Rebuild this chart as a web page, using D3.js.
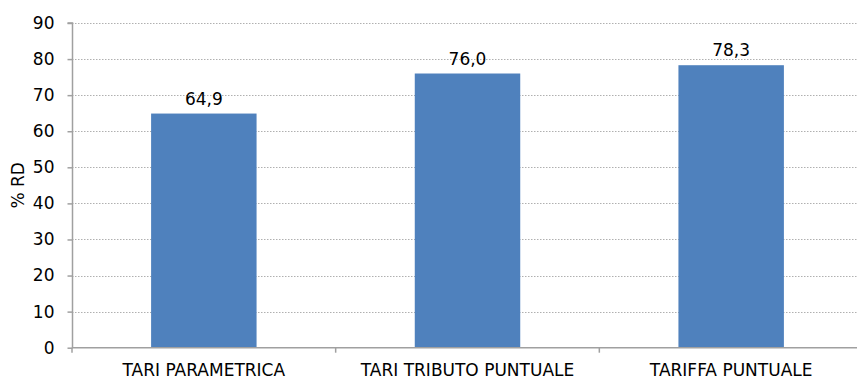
<!DOCTYPE html>
<html><head><meta charset="utf-8">
<script src="https://cdn.jsdelivr.net/npm/d3@7"></script>
<style>body{margin:0;background:#fff}svg{display:block}text{font-family:"DejaVu Sans",sans-serif;fill:#000}</style>
</head><body>
<svg id="c" width="857" height="381"></svg>
<script>
const categories = ["TARI PARAMETRICA", "TARI TRIBUTO PUNTUALE", "TARIFFA PUNTUALE"];
const values = [64.9, 76.0, 78.3];
const yTicks = [0, 10, 20, 30, 40, 50, 60, 70, 80, 90];
const yLabel = "% RD";

const svg = d3.select("#c");
const x = d3.scaleBand().domain(categories).range([72, 863]).paddingInner(0.6).paddingOuter(0.3);
const y = d3.scaleLinear().domain([0, 90]).range([347.7, 23]);
const fmt = v => d3.format(".1f")(v).replace(".", ",");

// gridlines
svg.append("g").selectAll("line").data(yTicks.filter(t => t > 0)).join("line")
  .attr("x1", 72).attr("x2", 857).attr("y1", d => Math.round(y(d)) + 0.5).attr("y2", d => Math.round(y(d)) + 0.5)
  .attr("stroke", "#b0b0b0").attr("stroke-dasharray", "1.5,1.5").attr("stroke-width", 1);

// bars
svg.append("g").selectAll("rect").data(values).join("rect")
  .attr("x", (d, i) => x(categories[i])).attr("width", x.bandwidth())
  .attr("y", d => y(d)).attr("height", d => y(0) - y(d)).attr("fill", "#4F81BD");

// value labels
svg.append("g").selectAll("text").data(values).join("text")
  .attr("x", (d, i) => x(categories[i]) + x.bandwidth() / 2).attr("y", d => y(d) - 9)
  .attr("text-anchor", "middle").attr("font-size", 17).text(fmt);

// y axis
const ya = d3.axisLeft(y).tickValues(yTicks).tickSize(5).tickPadding(13);
const gy = svg.append("g").attr("transform", "translate(72.5,0)").call(ya);
gy.selectAll("path,line").attr("stroke", "#a0a0a0").attr("stroke-width", 1.5);
gy.select(".domain").attr("d", `M-5,${y(90)}H0V${y(0)}`);
gy.selectAll("text").attr("font-size", 17).attr("font-family", "DejaVu Sans").attr("fill", "#000");

// x axis
const xb = d3.scaleLinear().domain([0, 3]).range([72, 863]);
const gx = svg.append("g").attr("transform", `translate(0,${y(0)})`);
gx.append("line").attr("x1", 72).attr("x2", 857).attr("stroke", "#a0a0a0").attr("stroke-width", 1.5);
gx.selectAll("line.t").data([0, 1, 2, 3]).join("line").attr("class", "t")
  .attr("x1", d => xb(d)).attr("x2", d => xb(d)).attr("y1", 0).attr("y2", 5)
  .attr("stroke", "#a0a0a0").attr("stroke-width", 1.5);
gx.selectAll("text").data(categories).join("text")
  .attr("x", d => x(d) + x.bandwidth() / 2).attr("y", 28.5)
  .attr("text-anchor", "middle").attr("font-size", 17).text(d => d);

// y label
svg.append("text").attr("transform", `translate(24,${y(45)}) rotate(-90)`)
  .attr("text-anchor", "middle").attr("font-size", 17).text(yLabel);
</script>
</body></html>
